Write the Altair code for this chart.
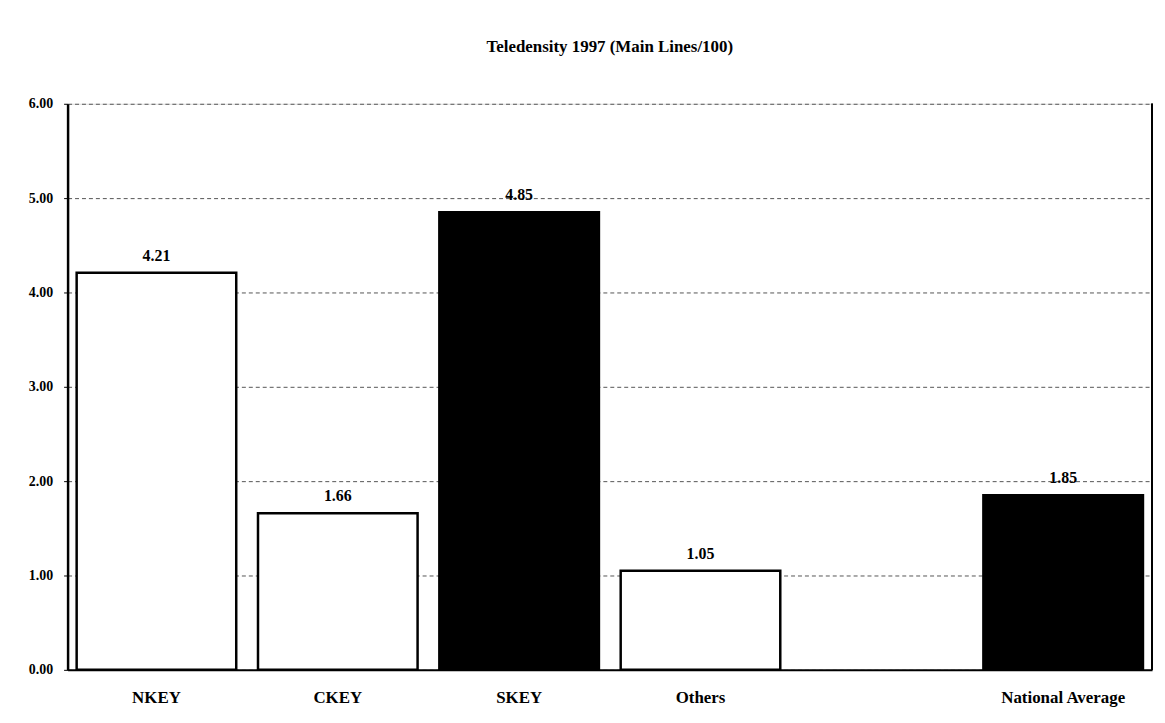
import altair as alt
import pandas as pd

categories = ["NKEY", "CKEY", "SKEY", "Others", "National Average"]
values = [4.21, 1.66, 4.85, 1.05, 1.85]
fills = ["white", "white", "black", "white", "black"]
domain_order = ["NKEY", "CKEY", "SKEY", "Others", " ", "National Average"]
title_text = "Teledensity 1997 (Main Lines/100)"

df = pd.DataFrame({"cat": categories, "val": values, "fill": fills})

FONT = "Liberation Serif"
W, H = 1092, 570

x_enc = alt.X("cat:N", sort=domain_order,
              scale=alt.Scale(domain=domain_order, paddingInner=0.12, paddingOuter=0.05),
              axis=alt.Axis(title=None, labelAngle=0, labelFont=FONT, labelFontWeight="bold",
                            labelFontSize=17, labelColor="black", labelPadding=20,
                            ticks=False, domainColor="black", domainWidth=2, grid=False))
y_enc = alt.Y("val:Q", scale=alt.Scale(domain=[0, 6]),
              axis=alt.Axis(title=None, values=[0, 1, 2, 3, 4, 5, 6], format=".2f",
                            labelFont=FONT, labelFontWeight="bold", labelFontSize=14,
                            labelColor="black", labelPadding=11, tickSize=4, tickColor="black",
                            domainColor="black", domainWidth=2.5,
                            grid=True, gridColor="#555555", gridDash=[4, 3], gridWidth=1))

bars = alt.Chart(df).mark_bar(stroke="black", strokeWidth=2.5).encode(
    x=x_enc, y=y_enc,
    fill=alt.Fill("fill:N", scale=None, legend=None),
)

labels = alt.Chart(df).mark_text(dy=-17, font=FONT, fontWeight="bold", fontSize=16, color="black").encode(
    x=alt.X("cat:N", sort=domain_order, scale=alt.Scale(domain=domain_order)),
    y="val:Q",
    text=alt.Text("val:Q", format=".2f"),
)

right_edge = alt.Chart(df).mark_rule(color="black", strokeWidth=1.5).encode(
    x=alt.value(W), y=alt.value(0), y2=alt.value(H)
)

chart = alt.layer(bars, labels, right_edge).properties(
    width=W, height=H,
    title=alt.TitleParams(title_text, font=FONT, fontWeight="bold", fontSize=17,
                          color="black", anchor="middle", offset=41),
    autosize=alt.AutoSizeParams(type="none"),
    padding={"left": 60, "top": 94, "right": 5, "bottom": 40},
).configure_view(stroke=None).configure(background="white")

chart.save("out.html", embed_options={"renderer": "svg", "actions": False})
